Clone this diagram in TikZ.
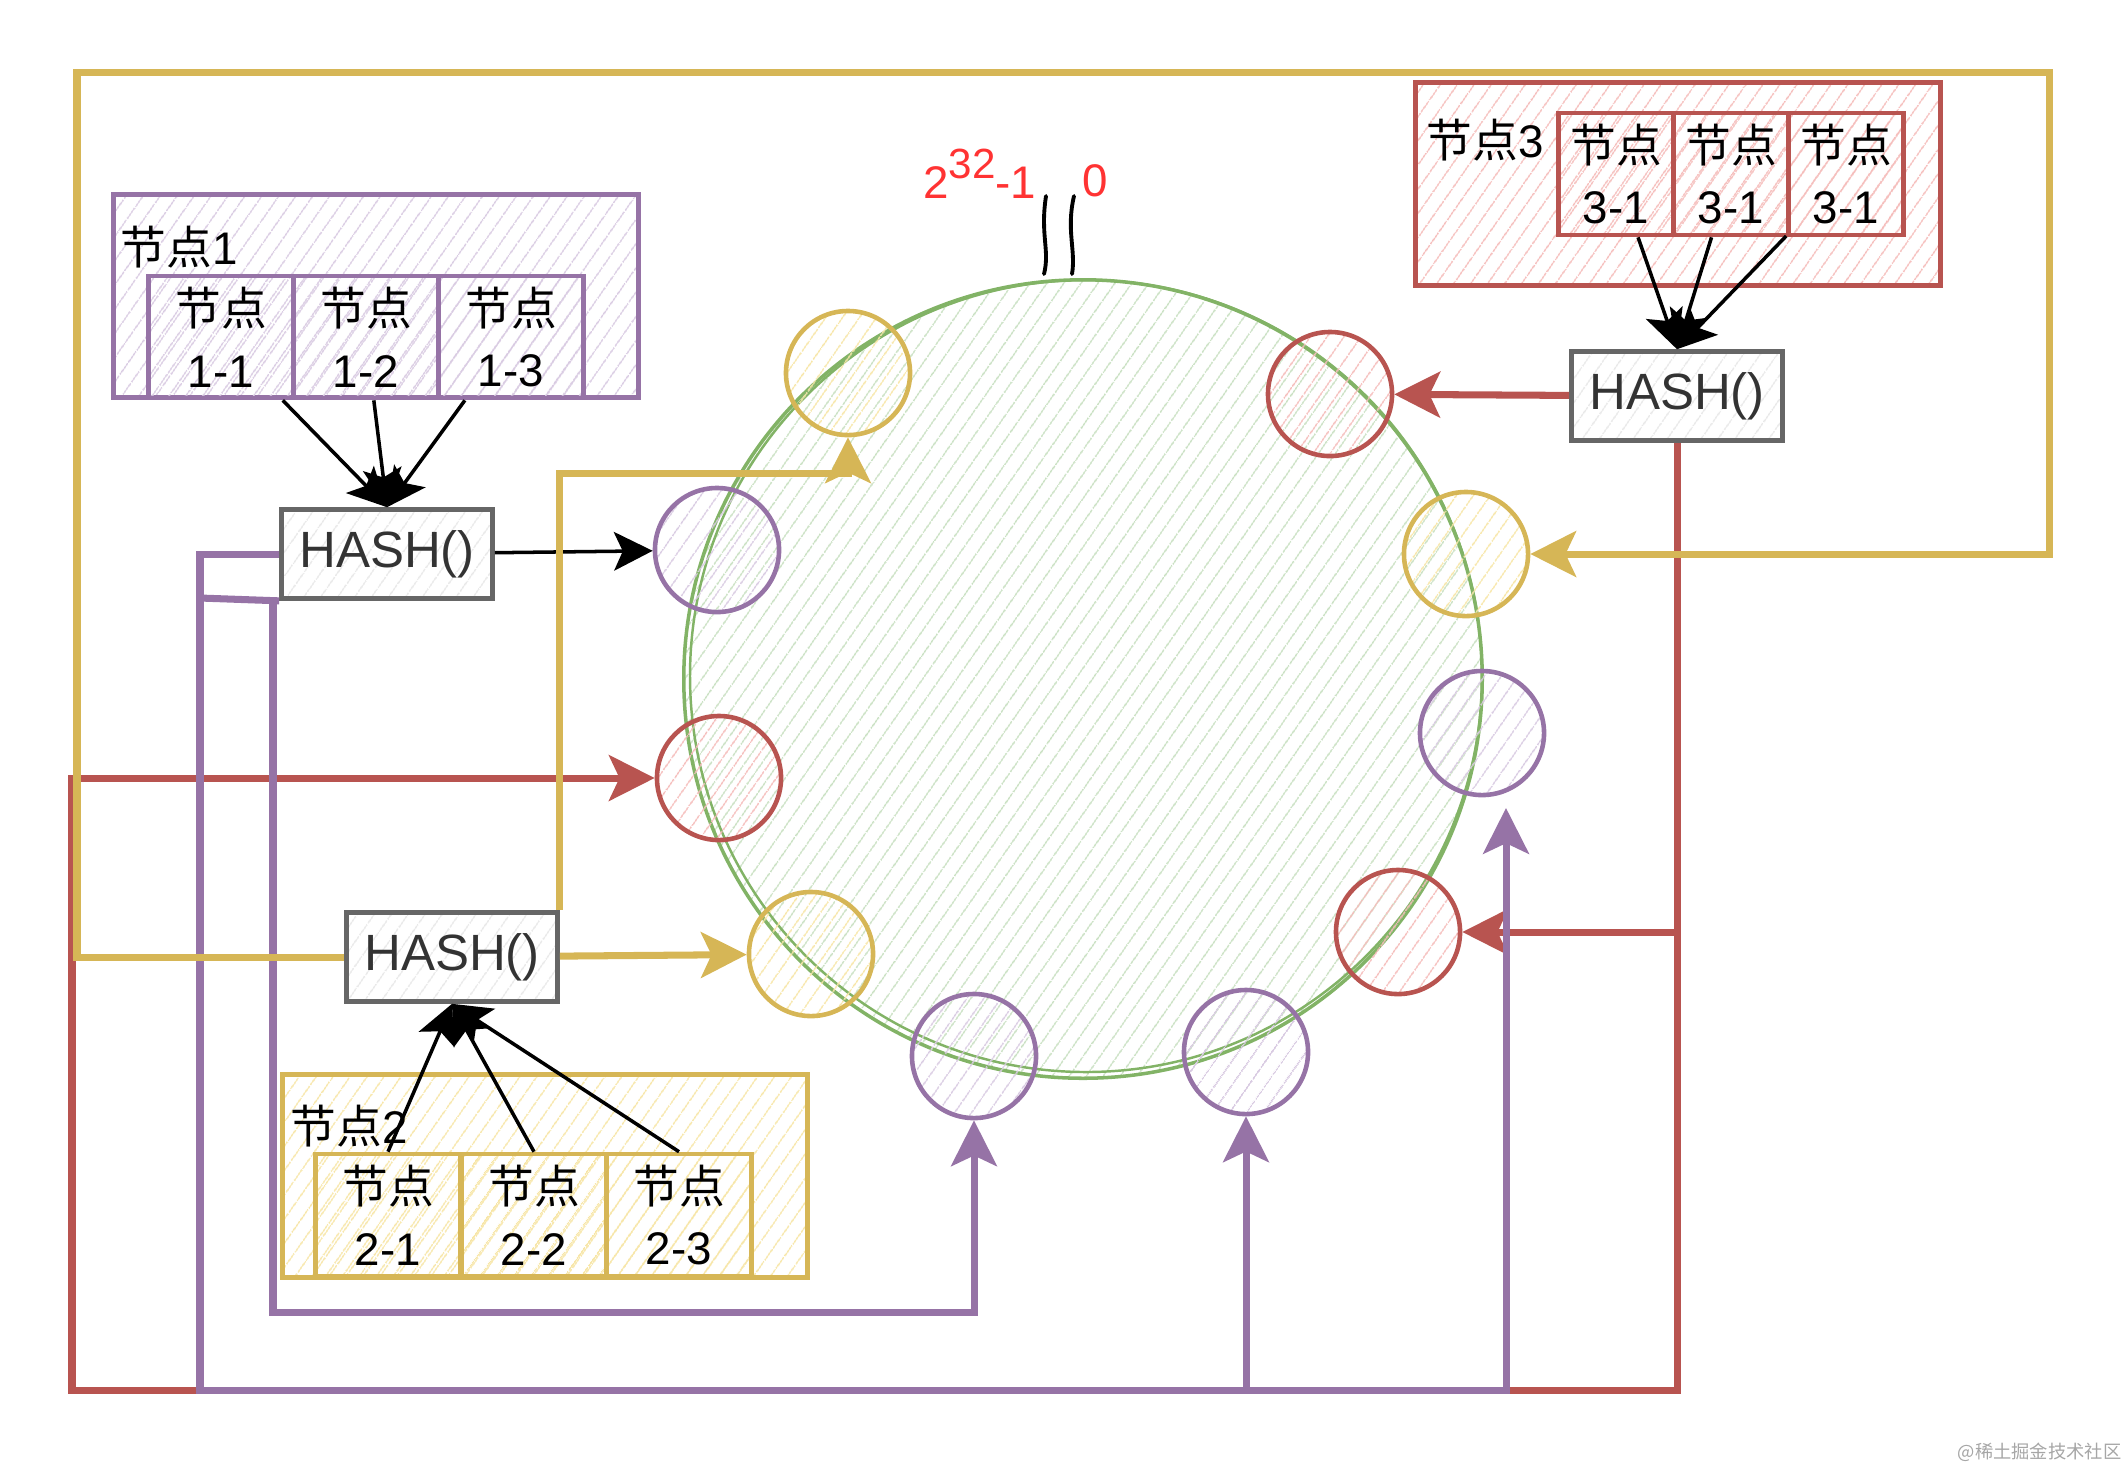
\documentclass[tikz,border=0pt]{standalone}
\usepackage{fontspec}
\setmainfont{Liberation Sans}
\newfontfamily\cjk{Noto Sans CJK SC}
\usetikzlibrary{arrows.meta,patterns.meta}

\definecolor{ringgreen}{HTML}{82B366}
\definecolor{ringhatch}{HTML}{C9E0C2}
\definecolor{cyel}{HTML}{D6B656}
\definecolor{yhatch}{HTML}{F7E6A8}
\definecolor{cred}{HTML}{B85450}
\definecolor{rhatch}{HTML}{F5BDBB}
\definecolor{cpur}{HTML}{9673A6}
\definecolor{phatch}{HTML}{D9CBE2}
\definecolor{hashgray}{HTML}{666666}
\definecolor{hashhatch}{HTML}{E8E8E8}
\definecolor{hashtext}{HTML}{333333}
\definecolor{numred}{HTML}{FF3333}

\tikzset{
  hatch/.style={pattern={Lines[angle=55,distance=4pt,line width=0.4pt]}, pattern color=#1},
  ring/.style={circle, draw=ringgreen, line width=1pt, minimum size=7.98cm, inner sep=0pt},
  vnode/.style={circle, draw=#1, line width=1.3pt, minimum size=1.24cm, inner sep=0pt},
  groupbox/.style={draw=#1, line width=1.3pt, minimum width=5.25cm, minimum height=2.03cm, inner sep=0pt},
  subbox/.style={draw=#1, line width=1.3pt, minimum width=1.45cm, minimum height=1.22cm, inner sep=0pt,
    align=center, font=\fontsize{13}{17.6}\selectfont},
  grouplabel/.style={anchor=west, inner sep=0pt, font=\fontsize{13}{13}\selectfont},
  hashbox/.style={draw=hashgray, line width=1.3pt, hatch=hashhatch, minimum width=2.11cm,
    minimum height=0.89cm, inner sep=0pt, text=hashtext, font=\fontsize{14.5}{14.5}\selectfont},
  wire/.style={draw=#1, line width=2pt, >={Stealth[length=13pt,width=13pt,inset=3pt]}},
  feed/.style={draw=black, line width=1pt},
  redlabel/.style={text=numred, inner sep=0pt, font=\fontsize{13}{13}\selectfont},
  tick/.style={draw=black, line width=1.1pt, line cap=round}
}

\begin{document}
\begin{tikzpicture}[x=0.01cm, y=-0.01cm, >={Stealth[length=11pt,width=11pt,inset=2.5pt]}]
  \useasboundingbox (0,0) rectangle (2128,1468);

  % hash ring
  \node[ring, hatch=ringhatch] (ring) at (1083,679) {};
  \draw[ringgreen, line width=0.7pt] (1086,676) circle (396);

  % virtual nodes on the ring
  \node[vnode=cyel, hatch=yhatch] (y1) at (848,373) {};
  \node[vnode=cred, hatch=rhatch] (r1) at (1330,394) {};
  \node[vnode=cyel, hatch=yhatch] (y2) at (1466,554) {};
  \node[vnode=cpur, hatch=phatch] (p1) at (1482,733) {};
  \node[vnode=cred, hatch=rhatch] (r2) at (1398,932) {};
  \node[vnode=cpur, hatch=phatch] (p2) at (1246,1052) {};
  \node[vnode=cpur, hatch=phatch] (p3) at (974,1056) {};
  \node[vnode=cyel, hatch=yhatch] (y3) at (811,954) {};
  \node[vnode=cred, hatch=rhatch] (r3) at (719,778) {};
  \node[vnode=cpur, hatch=phatch] (p4) at (717,550) {};

  % 0 / 2^32-1 mark
  \node[redlabel, anchor=base east] (maxval) at (1037,198) {2\raisebox{0.42em}{\fontsize{12}{12}\selectfont 32}-1};
  \node[redlabel, anchor=base west] (zeroval) at (1082,196) {0};
  \draw[tick] (1046,196) .. controls (1040,235) and (1050,250) .. (1044,274);
  \draw[tick] (1074,196) .. controls (1066,230) and (1076,250) .. (1072,274);

  % node groups
  \node[groupbox=cpur, hatch=phatch] (g1) at (376,296) {};
  \node[grouplabel] (g1lab) at (120,247) {{\cjk 节点}1};
  \node[subbox=cpur, hatch=phatch] (n11) at (221,337) {{\cjk 节点}\\1-1};
  \node[subbox=cpur, hatch=phatch] (n12) at (366,337) {{\cjk 节点}\\1-2};
  \node[subbox=cpur, hatch=phatch] (n13) at (511,337) {{\cjk 节点}\\1-3};

  \node[groupbox=cred, hatch=rhatch] (g3) at (1678,184) {};
  \node[grouplabel] (g3lab) at (1426,140) {{\cjk 节点}3};
  \node[subbox=cred, hatch=rhatch, minimum width=1.15cm] (n31) at (1616,174) {{\cjk 节点}\\3-1};
  \node[subbox=cred, hatch=rhatch, minimum width=1.15cm] (n32) at (1731,174) {{\cjk 节点}\\3-1};
  \node[subbox=cred, hatch=rhatch, minimum width=1.15cm] (n33) at (1846,174) {{\cjk 节点}\\3-1};

  \node[groupbox=cyel, hatch=yhatch] (g2) at (545,1176) {};
  \node[grouplabel] (g2lab) at (290,1126) {{\cjk 节点}2};
  \node[subbox=cyel, hatch=yhatch] (n21) at (388,1215) {{\cjk 节点}\\2-1};
  \node[subbox=cyel, hatch=yhatch] (n22) at (534,1215) {{\cjk 节点}\\2-2};
  \node[subbox=cyel, hatch=yhatch] (n23) at (679,1215) {{\cjk 节点}\\2-3};

  % hash functions
  \node[hashbox] (hash1) at (387,554) {HASH()};
  \node[hashbox] (hash2) at (452,957) {HASH()};
  \node[hashbox] (hash3) at (1677,396) {HASH()};

  % sub nodes into hash
  \draw[feed, ->] (n11) -- (hash1.north);
  \draw[feed, ->] (n12) -- (hash1.north);
  \draw[feed, ->] (n13) -- (hash1.north);
  \draw[feed, ->] (n31) -- (hash3.north);
  \draw[feed, ->] (n32) -- (hash3.north);
  \draw[feed, ->] (n33) -- (hash3.north);
  \draw[feed, ->] (n21.north) -- (hash2.south);
  \draw[feed, ->] (n22.north) -- (hash2.south);
  \draw[feed, ->] (n23.north) -- (hash2.south);

  % node 3 -> red points
  \coordinate (rl1) at (72,1390);
  \coordinate (rb) at (1679,932);
  \draw[wire=cred, ->] (hash3) -- (r1);
  \draw[wire=cred, ->] (hash3.south) |- (rl1) |- (r3);
  \draw[wire=cred, ->] (rb) -- (r2);

  % node 1 -> purple points
  \coordinate (pl1) at (200,1390);
  \coordinate (pe1) at (1506,808);
  \coordinate (pb) at (1246,1390);
  \coordinate (pa2) at (200,598);
  \coordinate (pb0) at (273,598);
  \coordinate (pl2) at (273,1312);
  \draw[feed, ->] (hash1) -- (p4);
  \draw[wire=cpur, ->] (hash1.west) -| (pl1) -| (pe1);
  \draw[wire=cpur] (hash1.south west) -- (pa2);
  \draw[wire=cpur, ->] (pb) -- (p2);
  \draw[wire=cpur, ->] (pb0) -- (pl2) -| (p3);

  % node 2 -> yellow points
  \coordinate (yl1) at (77,72);
  \coordinate (yl2) at (2049,554);
  \coordinate (ye) at (848,473);
  \draw[wire=cyel, ->] (hash2.west) -| (yl1) -| (yl2) -- (y2);
  \draw[wire=cyel, ->] (hash2.north east) |- (ye) -- (y1);
  \draw[wire=cyel, ->] (hash2) -- (y3);

  \node[text=gray!70, font=\fontsize{5.2}{5.2}\selectfont\cjk, anchor=east, inner sep=0pt] (mark) at (2122,1452) {@稀土掘金技术社区};
\end{tikzpicture}
\end{document}
